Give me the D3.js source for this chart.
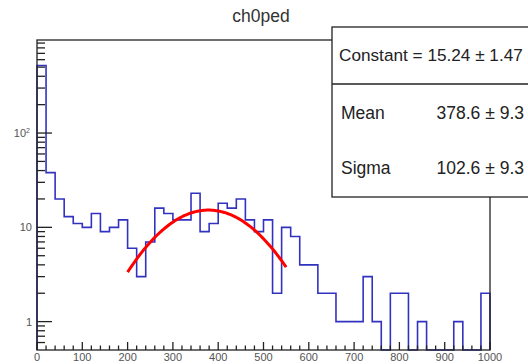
<!DOCTYPE html>
<html>
<head>
<meta charset="utf-8">
<style>
  body { margin: 0; background: #fff; }
  svg { display: block; font-family: "Liberation Sans", Arial, sans-serif; }
</style>
</head>
<body>
  <div id="chart"></div>
  <script src="https://d3js.org/d3.v7.min.js"></script>
  <script>
  // histogram ch0ped, 50 bins from 0 to 1000
  var binEdgesMin = 0,
      binEdgesMax = 1000,
      counts = [520, 38, 20, 13, 11, 10, 14, 9, 10, 12,
                6, 3, 7, 16, 14, 12, 12, 23, 9, 11,
                18, 16, 20, 12, 9, 12, 2, 10, 8, 4,
                4, 2, 2, 1, 1, 1, 3, 1, 0, 2,
                2, 0, 1, 0, 0, 0, 1, 0, 0, 2];
  var xTicks = [0, 100, 200, 300, 400, 500, 600, 700, 800, 900, 1000];
  var yMajor = [1, 10, 100];
  // gaus fit shown in the stats box
  var fitConstant = 15.24, fitMean = 378.6, fitSigma = 102.6;
  var fitRange = [200, 550];
  var statsRows = [
    ['Mean', '378.6 \u00b1 9.3'],
    ['Sigma', '102.6 \u00b1 9.3']
  ];

  (function(){
    var W = 528, H = 364,
        fL = 37, fR = 490, fT = 40, fB = 350;

    var svg = d3.select('#chart').append('svg')
                .attr('width', W)
                .attr('height', H);

    var x = d3.scaleLinear().domain([binEdgesMin, binEdgesMax]).range([fL, fR]);
    var y = d3.scaleLog().domain([0.5, 970]).range([fB, fT]);

    // title
    svg.append('text')
       .attr('x', 261).attr('y', 22)
       .attr('text-anchor', 'middle')
       .attr('font-size', 17.5)
       .attr('fill', '#333')
       .text('ch0ped');

    // histogram outline
    var bw = (binEdgesMax - binEdgesMin) / counts.length;
    var yv = function(v){ return v > 0 ? y(v) : fB; };
    var path = d3.path();
    path.moveTo(x(0), fB);
    counts.forEach(function(v, i){
      path.lineTo(x(i*bw), yv(v));
      path.lineTo(x((i+1)*bw), yv(v));
    });
    path.lineTo(x(binEdgesMax), fB);
    svg.append('path')
       .attr('d', path.toString())
       .attr('fill', 'none')
       .attr('stroke', '#3232c0')
       .attr('stroke-width', 1.6);

    // fit curve
    var fitX = d3.range(fitRange[0], fitRange[1] + 0.1, 3.5);
    var line = d3.line()
       .x(function(d){ return x(d); })
       .y(function(d){
         var z = (d - fitMean) / fitSigma;
         return y(fitConstant * Math.exp(-0.5*z*z));
       });
    svg.append('path')
       .datum(fitX)
       .attr('d', line)
       .attr('fill', 'none')
       .attr('stroke', '#ff0000')
       .attr('stroke-width', 3);

    // frame
    svg.append('rect')
       .attr('x', fL).attr('y', fT)
       .attr('width', fR - fL).attr('height', fB - fT)
       .attr('fill', 'none')
       .attr('stroke', '#222')
       .attr('stroke-width', 1.3);

    // x axis ticks
    var xg = svg.append('g');
    d3.range(0, 1001, 20).forEach(function(t){
      var major = t % 100 === 0;
      xg.append('line')
        .attr('x1', x(t)).attr('x2', x(t))
        .attr('y1', fB).attr('y2', fB - (major ? 8 : 4.5))
        .attr('stroke', '#222').attr('stroke-width', 1.3);
    });
    xg.selectAll('text').data(xTicks).enter().append('text')
      .attr('x', function(d){ return x(d); })
      .attr('y', 361)
      .attr('text-anchor', 'middle')
      .attr('font-size', 11)
      .attr('fill', '#555')
      .text(function(d){ return d; });

    // y axis ticks (log)
    var yg = svg.append('g');
    var minors = [];
    [0.1, 1, 10, 100].forEach(function(dec){
      for (var k = 2; k <= 9; k++) minors.push(dec*k);
    });
    minors = minors.filter(function(v){ return v > 0.5 && v < 970; });
    minors.forEach(function(v){
      yg.append('line')
        .attr('x1', fL).attr('x2', fL + 8)
        .attr('y1', y(v)).attr('y2', y(v))
        .attr('stroke', '#222').attr('stroke-width', 1.3);
    });
    yMajor.forEach(function(v){
      yg.append('line')
        .attr('x1', fL).attr('x2', fL + 15)
        .attr('y1', y(v)).attr('y2', y(v))
        .attr('stroke', '#222').attr('stroke-width', 1.3);
    });
    yg.append('text').attr('x', 32).attr('y', y(1) + 4)
      .attr('text-anchor', 'end').attr('font-size', 11).attr('fill', '#555').text('1');
    yg.append('text').attr('x', 32).attr('y', y(10) + 4)
      .attr('text-anchor', 'end').attr('font-size', 11).attr('fill', '#555').text('10');
    var t100 = yg.append('text').attr('x', 30).attr('y', y(100) + 4)
      .attr('text-anchor', 'end').attr('font-size', 11).attr('fill', '#555');
    t100.append('tspan').text('10');
    t100.append('tspan').attr('dy', -4).attr('font-size', 7).text('2');

    // stats box
    var sb = svg.append('g');
    sb.append('rect')
      .attr('x', 332).attr('y', 27)
      .attr('width', 200).attr('height', 170)
      .attr('fill', '#fff')
      .attr('stroke', '#222')
      .attr('stroke-width', 1.3);
    sb.append('line')
      .attr('x1', 332).attr('x2', 530)
      .attr('y1', 84).attr('y2', 84)
      .attr('stroke', '#222').attr('stroke-width', 1.3);
    sb.append('text')
      .attr('x', 339).attr('y', 61)
      .attr('font-size', 17.2)
      .attr('fill', '#222')
      .text('Constant = ' + fitConstant + ' \u00b1 1.47');
    statsRows.forEach(function(r, i){
      var ty = 119 + i*55;
      sb.append('text').attr('x', 341).attr('y', ty)
        .attr('font-size', 17.5).attr('fill', '#222').text(r[0]);
      sb.append('text').attr('x', 524).attr('y', ty)
        .attr('text-anchor', 'end')
        .attr('font-size', 17.5).attr('fill', '#222').text(r[1]);
    });
  })();
  </script>
</body>
</html>
